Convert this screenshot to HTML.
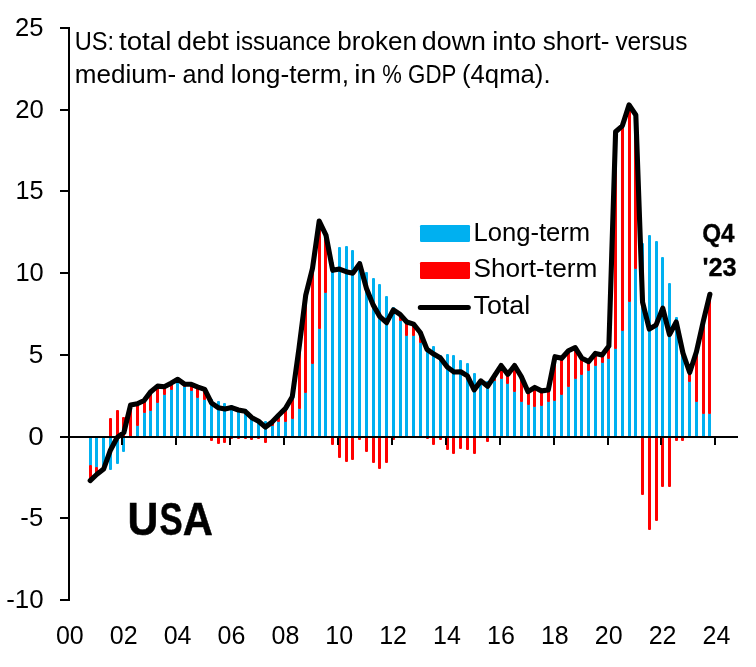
<!DOCTYPE html>
<html lang="en"><head><meta charset="utf-8"><title>US debt issuance</title>
<style>
html,body{margin:0;padding:0;background:#fff;}
svg{display:block;will-change:transform;}
text{font-family:"Liberation Sans",Arial,sans-serif;fill:#000;}
</style></head><body>
<svg width="756" height="667" viewBox="0 0 756 667">
<rect width="756" height="667" fill="#fff"/>
<g>
<g fill="#00B0F0"><rect x="89" y="437" width="3" height="29" rx="1"/><rect x="95" y="437" width="3" height="31" rx="1"/><rect x="102" y="437" width="3" height="32" rx="1"/><rect x="109" y="437" width="3" height="33" rx="1"/><rect x="116" y="437" width="3" height="27" rx="1"/><rect x="122" y="437" width="3" height="15" rx="1"/><rect x="136" y="425" width="3" height="12" rx="1"/><rect x="143" y="412" width="3" height="25" rx="1"/><rect x="149" y="410" width="3" height="27" rx="1"/><rect x="156" y="402" width="3" height="35" rx="1"/><rect x="163" y="394" width="3" height="43" rx="1"/><rect x="170" y="389" width="3" height="48" rx="1"/><rect x="176" y="382" width="3" height="55" rx="1"/><rect x="183" y="386" width="3" height="51" rx="1"/><rect x="190" y="390" width="3" height="47" rx="1"/><rect x="196" y="397" width="3" height="40" rx="1"/><rect x="203" y="399" width="3" height="38" rx="1"/><rect x="210" y="399" width="3" height="38" rx="1"/><rect x="217" y="401" width="3" height="36" rx="1"/><rect x="223" y="403" width="3" height="34" rx="1"/><rect x="230" y="405" width="3" height="32" rx="1"/><rect x="237" y="408" width="3" height="29" rx="1"/><rect x="244" y="409" width="3" height="28" rx="1"/><rect x="250" y="415" width="3" height="22" rx="1"/><rect x="257" y="419" width="3" height="18" rx="1"/><rect x="264" y="421" width="3" height="16" rx="1"/><rect x="271" y="425" width="3" height="12" rx="1"/><rect x="277" y="421" width="3" height="16" rx="1"/><rect x="284" y="421" width="3" height="16" rx="1"/><rect x="291" y="418" width="3" height="19" rx="1"/><rect x="298" y="408" width="3" height="29" rx="1"/><rect x="304" y="392" width="3" height="45" rx="1"/><rect x="311" y="363" width="3" height="74" rx="1"/><rect x="318" y="328" width="3" height="109" rx="1"/><rect x="324" y="292" width="3" height="145" rx="1"/><rect x="331" y="262" width="3" height="175" rx="1"/><rect x="338" y="247" width="3" height="190" rx="1"/><rect x="345" y="246" width="3" height="191" rx="1"/><rect x="351" y="250" width="3" height="187" rx="1"/><rect x="358" y="261" width="3" height="176" rx="1"/><rect x="365" y="272" width="3" height="165" rx="1"/><rect x="372" y="278" width="3" height="159" rx="1"/><rect x="378" y="284" width="3" height="153" rx="1"/><rect x="385" y="296" width="3" height="141" rx="1"/><rect x="392" y="307" width="3" height="130" rx="1"/><rect x="399" y="320" width="3" height="117" rx="1"/><rect x="405" y="335" width="3" height="102" rx="1"/><rect x="412" y="335" width="3" height="102" rx="1"/><rect x="419" y="342" width="3" height="95" rx="1"/><rect x="426" y="347" width="3" height="90" rx="1"/><rect x="432" y="346" width="3" height="91" rx="1"/><rect x="439" y="355" width="3" height="82" rx="1"/><rect x="446" y="354" width="3" height="83" rx="1"/><rect x="452" y="355" width="3" height="82" rx="1"/><rect x="459" y="360" width="3" height="77" rx="1"/><rect x="466" y="363" width="3" height="74" rx="1"/><rect x="473" y="373" width="3" height="64" rx="1"/><rect x="479" y="381" width="3" height="56" rx="1"/><rect x="486" y="381" width="3" height="56" rx="1"/><rect x="493" y="380" width="3" height="57" rx="1"/><rect x="500" y="378" width="3" height="59" rx="1"/><rect x="506" y="383" width="3" height="54" rx="1"/><rect x="513" y="391" width="3" height="46" rx="1"/><rect x="520" y="401" width="3" height="36" rx="1"/><rect x="527" y="404" width="3" height="33" rx="1"/><rect x="533" y="406" width="3" height="31" rx="1"/><rect x="540" y="405" width="3" height="32" rx="1"/><rect x="547" y="401" width="3" height="36" rx="1"/><rect x="553" y="400" width="3" height="37" rx="1"/><rect x="560" y="394" width="3" height="43" rx="1"/><rect x="567" y="386" width="3" height="51" rx="1"/><rect x="574" y="378" width="3" height="59" rx="1"/><rect x="580" y="374" width="3" height="63" rx="1"/><rect x="587" y="370" width="3" height="67" rx="1"/><rect x="594" y="365" width="3" height="72" rx="1"/><rect x="601" y="362" width="3" height="75" rx="1"/><rect x="607" y="358" width="3" height="79" rx="1"/><rect x="614" y="348" width="3" height="89" rx="1"/><rect x="621" y="330" width="3" height="107" rx="1"/><rect x="628" y="301" width="3" height="136" rx="1"/><rect x="634" y="268" width="3" height="169" rx="1"/><rect x="641" y="243" width="3" height="194" rx="1"/><rect x="648" y="235" width="3" height="202" rx="1"/><rect x="655" y="241" width="3" height="196" rx="1"/><rect x="661" y="257" width="3" height="180" rx="1"/><rect x="668" y="283" width="3" height="154" rx="1"/><rect x="675" y="317" width="3" height="120" rx="1"/><rect x="681" y="349" width="3" height="88" rx="1"/><rect x="688" y="381" width="3" height="56" rx="1"/><rect x="695" y="401" width="3" height="36" rx="1"/><rect x="702" y="413" width="3" height="24" rx="1"/><rect x="708" y="413" width="3" height="24" rx="1"/></g>
<g fill="#FF0000"><rect x="89" y="465" width="3" height="16" rx="1"/><rect x="95" y="467" width="3" height="7" rx="1"/><rect x="109" y="418" width="3" height="19" rx="1"/><rect x="116" y="410" width="3" height="27" rx="1"/><rect x="122" y="417" width="3" height="20" rx="1"/><rect x="129" y="405" width="3" height="32" rx="1"/><rect x="136" y="404" width="3" height="22" rx="1"/><rect x="143" y="401" width="3" height="12" rx="1"/><rect x="149" y="392" width="3" height="19" rx="1"/><rect x="156" y="386" width="3" height="17" rx="1"/><rect x="163" y="387" width="3" height="8" rx="1"/><rect x="170" y="383" width="3" height="7" rx="1"/><rect x="176" y="379" width="3" height="4" rx="1"/><rect x="183" y="384" width="3" height="3" rx="1"/><rect x="190" y="384" width="3" height="7" rx="1"/><rect x="196" y="387" width="3" height="11" rx="1"/><rect x="203" y="389" width="3" height="11" rx="1"/><rect x="210" y="437" width="3" height="4" rx="1"/><rect x="217" y="437" width="3" height="7" rx="1"/><rect x="223" y="437" width="3" height="6" rx="1"/><rect x="230" y="437" width="3" height="2" rx="1"/><rect x="237" y="437" width="3" height="2" rx="1"/><rect x="244" y="437" width="3" height="2" rx="1"/><rect x="250" y="437" width="3" height="3" rx="1"/><rect x="257" y="437" width="3" height="2" rx="1"/><rect x="264" y="437" width="3" height="6" rx="1"/><rect x="271" y="422" width="3" height="4" rx="1"/><rect x="277" y="415" width="3" height="7" rx="1"/><rect x="284" y="408" width="3" height="14" rx="1"/><rect x="291" y="397" width="3" height="22" rx="1"/><rect x="298" y="348" width="3" height="61" rx="1"/><rect x="304" y="295" width="3" height="98" rx="1"/><rect x="311" y="268" width="3" height="96" rx="1"/><rect x="318" y="221" width="3" height="108" rx="1"/><rect x="324" y="235" width="3" height="58" rx="1"/><rect x="331" y="437" width="3" height="8" rx="1"/><rect x="338" y="437" width="3" height="21" rx="1"/><rect x="345" y="437" width="3" height="25" rx="1"/><rect x="351" y="437" width="3" height="23" rx="1"/><rect x="358" y="437" width="3" height="3" rx="1"/><rect x="365" y="437" width="3" height="15" rx="1"/><rect x="372" y="437" width="3" height="26" rx="1"/><rect x="378" y="437" width="3" height="32" rx="1"/><rect x="385" y="437" width="3" height="26" rx="1"/><rect x="392" y="437" width="3" height="3" rx="1"/><rect x="399" y="314" width="3" height="7" rx="1"/><rect x="405" y="322" width="3" height="14" rx="1"/><rect x="412" y="324" width="3" height="12" rx="1"/><rect x="419" y="332" width="3" height="11" rx="1"/><rect x="426" y="437" width="3" height="2" rx="1"/><rect x="432" y="437" width="3" height="8" rx="1"/><rect x="439" y="437" width="3" height="3" rx="1"/><rect x="446" y="437" width="3" height="13" rx="1"/><rect x="452" y="437" width="3" height="17" rx="1"/><rect x="459" y="437" width="3" height="12" rx="1"/><rect x="466" y="437" width="3" height="13" rx="1"/><rect x="473" y="437" width="3" height="17" rx="1"/><rect x="486" y="437" width="3" height="5" rx="1"/><rect x="493" y="376" width="3" height="5" rx="1"/><rect x="500" y="366" width="3" height="13" rx="1"/><rect x="506" y="374" width="3" height="10" rx="1"/><rect x="513" y="366" width="3" height="26" rx="1"/><rect x="520" y="377" width="3" height="25" rx="1"/><rect x="527" y="392" width="3" height="13" rx="1"/><rect x="533" y="387" width="3" height="20" rx="1"/><rect x="540" y="391" width="3" height="15" rx="1"/><rect x="547" y="390" width="3" height="12" rx="1"/><rect x="553" y="357" width="3" height="44" rx="1"/><rect x="560" y="358" width="3" height="37" rx="1"/><rect x="567" y="351" width="3" height="36" rx="1"/><rect x="574" y="348" width="3" height="31" rx="1"/><rect x="580" y="358" width="3" height="17" rx="1"/><rect x="587" y="362" width="3" height="9" rx="1"/><rect x="594" y="353" width="3" height="13" rx="1"/><rect x="601" y="355" width="3" height="8" rx="1"/><rect x="607" y="346" width="3" height="13" rx="1"/><rect x="614" y="132" width="3" height="217" rx="1"/><rect x="621" y="126" width="3" height="205" rx="1"/><rect x="628" y="105" width="3" height="197" rx="1"/><rect x="634" y="115" width="3" height="154" rx="1"/><rect x="641" y="437" width="3" height="58" rx="1"/><rect x="648" y="437" width="3" height="93" rx="1"/><rect x="655" y="437" width="3" height="84" rx="1"/><rect x="661" y="437" width="3" height="50" rx="1"/><rect x="668" y="437" width="3" height="50" rx="1"/><rect x="675" y="437" width="3" height="4" rx="1"/><rect x="681" y="437" width="3" height="4" rx="1"/><rect x="688" y="373" width="3" height="9" rx="1"/><rect x="695" y="352" width="3" height="50" rx="1"/><rect x="702" y="322" width="3" height="92" rx="1"/><rect x="708" y="294" width="3" height="120" rx="1"/></g>
</g>
<g fill="#000" shape-rendering="crispEdges">
<rect x="68" y="27" width="2" height="574"/>
<rect x="60" y="27" width="9" height="2"/>
<rect x="60" y="109" width="9" height="2"/>
<rect x="60" y="190" width="9" height="2"/>
<rect x="60" y="272" width="9" height="2"/>
<rect x="60" y="354" width="9" height="2"/>
<rect x="60" y="436" width="9" height="2"/>
<rect x="60" y="517" width="9" height="2"/>
<rect x="60" y="599" width="9" height="2"/>
<rect x="60" y="436" width="678" height="2"/>
<rect x="121" y="437" width="2" height="8"/>
<rect x="175" y="437" width="2" height="8"/>
<rect x="229" y="437" width="2" height="8"/>
<rect x="283" y="437" width="2" height="8"/>
<rect x="337" y="437" width="2" height="8"/>
<rect x="391" y="437" width="2" height="8"/>
<rect x="445" y="437" width="2" height="8"/>
<rect x="499" y="437" width="2" height="8"/>
<rect x="553" y="437" width="2" height="8"/>
<rect x="607" y="437" width="2" height="8"/>
<rect x="660" y="437" width="2" height="8"/>
<rect x="714" y="437" width="2" height="8"/>
</g>
<polyline points="90.20,480.62 96.94,474.24 103.67,469.01 110.41,450.21 117.14,437.45 123.88,432.55 130.62,404.92 137.35,403.77 144.09,400.50 150.82,391.67 157.56,386.12 164.30,386.77 171.03,383.17 177.77,379.25 184.50,384.15 191.24,384.32 197.98,387.10 204.71,389.38 211.45,402.96 218.18,407.70 224.92,409.00 231.66,407.53 238.39,409.99 245.13,411.29 251.86,417.67 258.60,421.27 265.34,427.15 272.07,422.09 278.81,415.05 285.54,408.35 292.28,396.74 299.02,348.18 305.75,295.05 312.49,268.39 319.22,220.98 325.96,235.04 332.70,270.36 339.43,269.05 346.17,271.66 352.90,273.14 359.64,263.65 366.38,288.18 373.11,304.86 379.85,316.63 386.58,322.68 393.32,309.92 400.06,314.34 406.79,322.02 413.53,324.15 420.26,332.49 427.00,349.33 433.74,354.07 440.47,357.99 447.21,366.99 453.94,372.05 460.68,371.73 467.42,375.81 474.15,389.88 480.89,380.88 487.62,386.28 494.36,375.98 501.10,365.51 507.83,374.34 514.57,365.51 521.30,376.63 528.04,391.67 534.78,387.42 541.51,390.86 548.25,390.04 554.98,356.69 561.72,358.32 568.46,350.80 575.19,347.53 581.93,358.32 588.66,361.59 595.40,353.42 602.14,355.05 608.87,346.06 615.61,131.71 622.34,125.82 629.08,104.90 635.82,115.03 642.55,302.08 649.29,329.05 656.02,325.13 662.76,308.13 669.50,334.61 676.23,322.02 682.97,353.09 689.70,372.54 696.44,351.78 703.18,321.70 709.91,294.23" fill="none" stroke="#000" stroke-width="5.1" stroke-linejoin="round" stroke-linecap="round"/>
<g font-size="25">
<text x="69.8" y="643.7" text-anchor="middle">00</text>
<text x="123.7" y="643.7" text-anchor="middle">02</text>
<text x="177.6" y="643.7" text-anchor="middle">04</text>
<text x="231.5" y="643.7" text-anchor="middle">06</text>
<text x="285.4" y="643.7" text-anchor="middle">08</text>
<text x="339.2" y="643.7" text-anchor="middle">10</text>
<text x="393.1" y="643.7" text-anchor="middle">12</text>
<text x="447.0" y="643.7" text-anchor="middle">14</text>
<text x="500.9" y="643.7" text-anchor="middle">16</text>
<text x="554.8" y="643.7" text-anchor="middle">18</text>
<text x="608.7" y="643.7" text-anchor="middle">20</text>
<text x="662.6" y="643.7" text-anchor="middle">22</text>
<text x="716.5" y="643.7" text-anchor="middle">24</text>
<text y="49.7"><tspan x="74.78" textLength="39.38" lengthAdjust="spacingAndGlyphs">US:</tspan> <tspan x="118.98" textLength="52.48" lengthAdjust="spacingAndGlyphs">total</tspan> <tspan x="177.29" textLength="51.51" lengthAdjust="spacingAndGlyphs">debt</tspan> <tspan x="235.58" textLength="95.49" lengthAdjust="spacingAndGlyphs">issuance</tspan> <tspan x="337.32" textLength="79.57" lengthAdjust="spacingAndGlyphs">broken</tspan> <tspan x="421.87" textLength="64.17" lengthAdjust="spacingAndGlyphs">down</tspan> <tspan x="492.17" textLength="44.18" lengthAdjust="spacingAndGlyphs">into</tspan> <tspan x="542.67" textLength="66.69" lengthAdjust="spacingAndGlyphs">short-</tspan> <tspan x="615.42" textLength="71.97" lengthAdjust="spacingAndGlyphs">versus</tspan></text>
<text y="83.4"><tspan x="74.87" textLength="101.29" lengthAdjust="spacingAndGlyphs">medium-</tspan> <tspan x="182.63" textLength="41.99" lengthAdjust="spacingAndGlyphs">and</tspan> <tspan x="230.73" textLength="118.33" lengthAdjust="spacingAndGlyphs">long-term,</tspan> <tspan x="354.33" textLength="21.79" lengthAdjust="spacingAndGlyphs">in</tspan> <tspan x="382.22" textLength="19.57" lengthAdjust="spacingAndGlyphs">%</tspan> <tspan x="408.09" textLength="47.88" lengthAdjust="spacingAndGlyphs">GDP</tspan> <tspan x="462.01" textLength="88.54" lengthAdjust="spacingAndGlyphs">(4qma).</tspan></text>
<rect x="420" y="225" width="50" height="17" rx="1.2" fill="#00B0F0"/>
<rect x="420" y="262" width="50" height="17" rx="1.2" fill="#FF0000"/>
<line x1="420.3" y1="307.5" x2="468.3" y2="307.5" stroke="#000" stroke-width="5" stroke-linecap="round"/>
<text x="473.5" y="240.7" textLength="116.69" lengthAdjust="spacingAndGlyphs">Long-term</text>
<text x="473.41" y="277.2" textLength="123.92" lengthAdjust="spacingAndGlyphs">Short-term</text>
<text x="473.53" y="314.1" textLength="56.68" lengthAdjust="spacingAndGlyphs">Total</text>
<text x="702.2" y="241.9" font-weight="bold" stroke="#000" stroke-width="0.3" textLength="32.43" lengthAdjust="spacingAndGlyphs">Q4</text>
<text x="702.45" y="275.5" font-weight="bold" stroke="#000" stroke-width="0.3" textLength="34.27" lengthAdjust="spacingAndGlyphs">'23</text>
<text x="15.11" y="36.0" textLength="28.46" lengthAdjust="spacingAndGlyphs">25</text>
<text x="15.21" y="118.0" textLength="28.6" lengthAdjust="spacingAndGlyphs">20</text>
<text x="15.48" y="199.0" textLength="28.08" lengthAdjust="spacingAndGlyphs">15</text>
<text x="15.46" y="281.0" textLength="28.34" lengthAdjust="spacingAndGlyphs">10</text>
<text x="28.65" y="363.0" textLength="14.55" lengthAdjust="spacingAndGlyphs">5</text>
<text x="28.21" y="445.0" textLength="15.47" lengthAdjust="spacingAndGlyphs">0</text>
<text x="20.36" y="526.0" textLength="22.82" lengthAdjust="spacingAndGlyphs">-5</text>
<text x="6.25" y="608.0" textLength="37.36" lengthAdjust="spacingAndGlyphs">-10</text>
</g>
<text y="534.6" font-size="45.5" font-weight="bold" stroke="#000" stroke-width="0.5"><tspan x="127.53" textLength="30.88" lengthAdjust="spacingAndGlyphs">U</tspan><tspan x="159.5" textLength="23.16" lengthAdjust="spacingAndGlyphs">S</tspan><tspan x="182.66" textLength="30.14" lengthAdjust="spacingAndGlyphs">A</tspan></text>
</svg>
</body></html>
